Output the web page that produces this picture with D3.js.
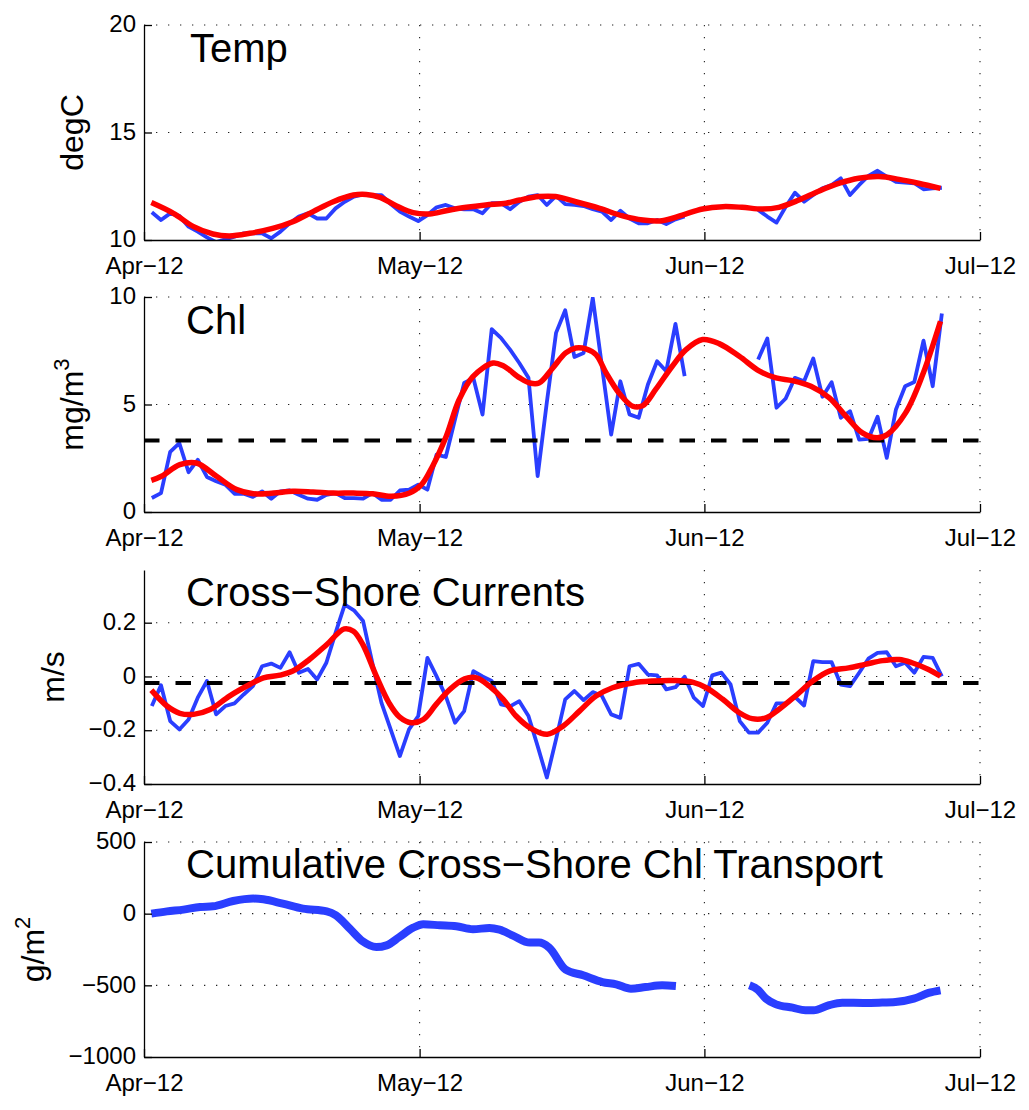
<!DOCTYPE html>
<html><head><meta charset="utf-8">
<script src="https://cdn.jsdelivr.net/npm/d3@7"></script>
<style>
body{margin:0;background:#fff}
svg{display:block}
text{font-family:"Liberation Sans",Arial,Helvetica,sans-serif;fill:#000}
</style>
</head><body>
<svg id="c" width="1029" height="1110"></svg>
<script>
// ---------- time axis ----------
const startDate = new Date(2012, 3, 1);
const endDate = new Date(2012, 6, 1);
const monthTicks = [new Date(2012,3,1), new Date(2012,4,1), new Date(2012,5,1), new Date(2012,6,1)];
const monthTickLabels = ["Apr\u221212", "May\u221212", "Jun\u221212", "Jul\u221212"];
const firstSampleDay = 0.85;   // daily samples, days after Apr 1
const nSamples = 87;

// ---------- daily observations (null = missing) ----------
const temp = [11.29,10.93,11.24,11.12,10.62,10.39,10.12,9.9,10.03,10.15,
  10.31,10.31,10.31,10.08,10.39,10.78,11.09,11.24,11.0,11.0,
  11.47,11.78,12.02,12.12,12.09,12.09,11.67,11.32,11.09,10.88,
  11.16,11.52,11.63,11.47,11.43,11.43,11.24,11.71,11.71,11.43,
  11.78,12.02,12.09,11.63,12.05,11.67,11.63,11.58,11.43,11.32,
  10.93,11.36,11.0,10.78,10.78,10.93,10.74,10.96,11.1,
  null,null,null,null,null,null,null,
  11.4,11.09,10.81,11.55,12.2,11.78,12.09,12.4,12.56,12.87,
  12.09,12.56,12.98,13.22,12.95,12.71,12.67,12.64,12.36,12.4,12.43];

const chl = [0.65,0.88,2.8,3.2,1.85,2.43,1.63,1.43,1.27,0.85,
  0.85,0.7,0.96,0.62,0.96,1.0,0.8,0.62,0.57,0.8,
  0.88,0.65,0.65,0.62,0.88,0.57,0.57,1.0,1.04,1.27,
  1.04,2.67,2.56,4.3,6.0,6.23,4.53,8.5,8.1,7.55,
  6.93,6.24,1.67,5.1,8.33,9.38,7.21,7.4,9.95,6.78,
  3.6,6.08,4.54,4.38,5.93,7.01,6.55,8.75,6.32,
  null,null,null,null,null,null,null,
  7.09,8.07,4.85,5.28,6.24,6.08,7.14,5.36,6.04,4.38,
  4.69,3.37,3.4,4.43,2.52,4.77,5.85,6.05,7.97,5.85,9.23];

const currents = [-0.11,-0.033,-0.166,-0.197,-0.16,-0.079,-0.017,-0.141,-0.11,-0.1,
  -0.067,-0.036,0.038,0.048,0.032,0.09,0.014,0.028,-0.011,0.051,
  0.162,0.267,0.246,0.206,0.051,-0.098,-0.197,-0.296,-0.197,-0.147,
  0.069,0.0,-0.073,-0.172,-0.129,0.02,0.0,-0.017,-0.104,-0.111,
  -0.092,-0.147,-0.259,-0.376,-0.234,-0.085,-0.054,-0.088,-0.058,-0.073,
  -0.141,-0.154,0.038,0.047,0.007,0.004,-0.048,-0.04,-0.001,-0.079,
  -0.11,0.004,0.014,-0.03,-0.166,-0.209,-0.209,-0.172,-0.1,-0.1,
  -0.076,-0.108,0.057,0.053,0.053,-0.03,-0.036,0.014,0.066,0.088,
  0.09,0.038,0.051,0.014,0.073,0.069,0.0];

// ---------- smoothed (low-pass) curves: day after Apr 1, value ----------
const tempSmoothDay = [0.8,3.2,5.4,7.5,9.3,11.5,14,16.2,18.4,20.6,22.8,24.2,25.7,27.5,29.3,31.1,32.9,35.1,37.2,39.4,40.9,43,44.8,47,49.6,52.1,54.3,56.4,58.6,60.8,63,65.1,67.3,69.1,71.3,73.5,75.7,77.8,80,82.2,84.3,86.7];
const tempSmooth = [11.74,11.24,10.62,10.28,10.19,10.31,10.54,10.85,11.32,11.78,12.09,12.12,11.98,11.58,11.27,11.21,11.36,11.52,11.63,11.71,11.86,12.02,12.02,11.78,11.47,11.12,10.93,10.9,11.16,11.44,11.55,11.52,11.44,11.52,11.86,12.28,12.64,12.87,12.95,12.82,12.64,12.4];

const chlSmoothDay = [0.8,1.9,3.9,5.7,7.9,10.1,11.9,14.1,16.2,18.4,20.6,22.8,24.9,26.9,28.9,30.2,31.4,32.9,34.3,35.8,38,39.1,40.9,42,43,44.5,45.9,47,48.1,49.2,50.3,51.7,53.2,54.3,55.7,57.5,59,60.8,62.6,64.8,67,68.8,70.6,72.6,74.6,76.4,78.2,79.8,80.9,82.9,84.7,86.7];
const chlSmooth = [1.47,1.66,2.2,2.28,1.66,1.04,0.85,0.88,0.96,0.93,0.88,0.88,0.85,0.73,0.88,1.27,2.12,3.52,5.22,6.3,6.93,6.8,6.24,6.0,6.0,6.7,7.4,7.63,7.59,7.32,6.47,5.54,4.92,4.95,5.7,6.78,7.55,8.02,7.83,7.24,6.55,6.24,6.11,5.85,5.31,4.46,3.68,3.45,3.6,4.61,6.32,8.87];

const curSmoothDay = [0.8,2.5,3.9,5.4,7.2,9.3,11.5,13,14.8,16.2,18,19.9,21.8,22.8,23.8,25.3,26.7,27.8,29.1,30.4,31.8,33.3,34.9,36.2,37.6,39.1,40.5,42.3,43.9,45.6,47.4,49.2,51,53.2,55.4,57.5,59.7,61.2,63,64.8,66.2,67.7,69.1,70.9,72.8,74.6,76.7,78.5,80.4,82.2,83.6,85.4,86.7];
const curSmooth = [-0.051,-0.11,-0.137,-0.141,-0.123,-0.073,-0.03,-0.005,0.005,0.02,0.063,0.119,0.177,0.168,0.12,0.0,-0.1,-0.15,-0.172,-0.16,-0.104,-0.048,-0.009,-0.005,-0.036,-0.085,-0.147,-0.197,-0.215,-0.185,-0.129,-0.073,-0.042,-0.024,-0.017,-0.015,-0.021,-0.042,-0.085,-0.135,-0.157,-0.154,-0.123,-0.073,-0.017,0.02,0.032,0.045,0.059,0.063,0.051,0.026,0.001];

// ---------- cumulative transport ----------
const transDay = [0.8,2.5,4.3,6.1,7.5,9.7,11.9,13,15.1,17.3,19.9,20.9,22.4,23.8,25.3,26.4,27.8,29.3,30.4,32.2,34,35.8,37.6,38.7,40.1,42,43,44.1,45.9,47.8,49.9,51.4,53,54.6,56.4,57.9,
  null,
  65.9,66.8,67.7,68.8,70.6,72,72.9,74.5,76,78.5,80,81.8,83.8,85.4,86.7];
const transport = [0,16,28,47,51,88,105,100,70,35,16,-12,-105,-193,-233,-221,-163,-98,-74,-81,-88,-109,-100,-112,-151,-202,-202,-237,-391,-430,-477,-493,-523,-512,-500,-505,
  null,
  -500,-530,-593,-633,-656,-674,-674,-640,-621,-623,-621,-616,-593,-553,-535];

// ---------- reference levels ----------
const chlThreshold = 3.33;
const currentMean = -0.024;

// ---------- axes definitions ----------
const tempTicks = [10,15,20],        tempTickLabels = ["10","15","20"];
const chlTicks = [0,5,10],           chlTickLabels = ["0","5","10"];
const curTicks = [-0.4,-0.2,0,0.2],  curTickLabels = ["\u22120.4","\u22120.2","0","0.2"];
const trTicks = [-1000,-500,0,500],  trTickLabels = ["\u22121000","\u2212500","0","500"];

// ================= drawing =================
const svg = d3.select("#c");
const X0 = 144, X1 = 980;
const x = d3.scaleTime().domain([startDate, endDate]).range([X0, X1]);
const toDate = d => new Date(+startDate + d * 864e5);
const sampleDates = d3.range(nSamples).map(k => toDate(firstSampleDay + k));

const BLUE = "#2a3eff", RED = "#ff0000";

const panels = [
  {id:"p1", top:25, bottom:240, domain:[10,20], ticks:tempTicks, labels:tempTickLabels, grid:[15,20],
   title:"Temp", titleX:190, titleY:62, ylab:["degC"], ylabX:83},
  {id:"p2", top:297, bottom:512, domain:[0,10], ticks:chlTicks, labels:chlTickLabels, grid:[5,10],
   title:"Chl", titleX:186, titleY:334, ylab:["mg/m","3"], ylabX:83},
  {id:"p3", top:570, bottom:784, domain:[-0.4,0.396], ticks:curTicks, labels:curTickLabels, grid:[-0.2,0,0.2],
   title:"Cross\u2212Shore Currents", titleX:186, titleY:606, ylab:["m/s"], ylabX:64},
  {id:"p4", top:842, bottom:1057, domain:[-1000,500], ticks:trTicks, labels:trTickLabels, grid:[-500,0,500],
   title:"Cumulative Cross\u2212Shore Chl Transport", titleX:186, titleY:878, ylab:["g/m","2"], ylabX:44}
];

const defs = svg.append("defs");

panels.forEach(p => {
  p.y = d3.scaleLinear().domain(p.domain).range([p.bottom, p.top]);
  defs.append("clipPath").attr("id", "clip-" + p.id)
    .append("rect").attr("x", X0).attr("y", p.top).attr("width", X1 - X0).attr("height", p.bottom - p.top);
  const g = svg.append("g");
  p.g = g;
  g.selectAll(".hg").data(p.grid).join("line")
    .attr("x1", X0).attr("x2", X1).attr("y1", d => p.y(d)).attr("y2", d => p.y(d))
    .attr("stroke", "#222").attr("stroke-width", 1.1).attr("stroke-dasharray", "1.3,10.7");
  g.selectAll(".vg").data(monthTicks.slice(1)).join("line")
    .attr("x1", d => x(d)).attr("x2", d => x(d)).attr("y1", p.top).attr("y2", p.bottom)
    .attr("stroke", "#222").attr("stroke-width", 1.1).attr("stroke-dasharray", "1.3,10.7");
  p.plot = g.append("g").attr("clip-path", "url(#clip-" + p.id + ")");
});

function dailyLine(p, values, color, width) {
  const line = d3.line()
    .defined((d, i) => values[i] !== null)
    .x((d, i) => x(sampleDates[i]))
    .y((d, i) => p.y(values[i]));
  p.plot.append("path").attr("d", line(values))
    .attr("fill", "none").attr("stroke", color).attr("stroke-width", width)
    .attr("stroke-linejoin", "round");
}
function smoothLine(p, days, values, color, width, curve) {
  const line = d3.line()
    .defined((d, i) => values[i] !== null && days[i] !== null)
    .x((d, i) => x(toDate(days[i])))
    .y((d, i) => p.y(values[i]))
    .curve(curve);
  p.plot.append("path").attr("d", line(values))
    .attr("fill", "none").attr("stroke", color).attr("stroke-width", width)
    .attr("stroke-linejoin", "round");
}
function hLine(p, v) {
  p.plot.append("line").attr("x1", X0).attr("x2", X1)
    .attr("y1", p.y(v)).attr("y2", p.y(v))
    .attr("stroke", "#000").attr("stroke-width", 4).attr("stroke-dasharray", "15.5,16");
}

dailyLine(panels[0], temp, BLUE, 3.8);
smoothLine(panels[0], tempSmoothDay, tempSmooth, RED, 5.5, d3.curveCatmullRom.alpha(0.5));
dailyLine(panels[1], chl, BLUE, 3.8);
hLine(panels[1], chlThreshold);
smoothLine(panels[1], chlSmoothDay, chlSmooth, RED, 5.5, d3.curveCatmullRom.alpha(0.5));
dailyLine(panels[2], currents, BLUE, 3.8);
hLine(panels[2], currentMean);
smoothLine(panels[2], curSmoothDay, curSmooth, RED, 5.5, d3.curveCatmullRom.alpha(0.5));
smoothLine(panels[3], transDay, transport, BLUE, 8, d3.curveMonotoneX);

panels.forEach(p => {
  const g = p.g;
  const ya = d3.axisLeft(p.y).tickValues(p.ticks).tickFormat((d, i) => p.labels[i])
    .tickSizeInner(-8).tickSizeOuter(0).tickPadding(8);
  const yg = g.append("g").attr("transform", `translate(${X0},0)`).call(ya);
  const xa = d3.axisBottom(x).tickValues(monthTicks).tickFormat((d, i) => monthTickLabels[i])
    .tickSizeInner(-8).tickSizeOuter(0).tickPadding(17);
  const xg = g.append("g").attr("transform", `translate(0,${p.bottom})`).call(xa);
  [yg, xg].forEach(a => {
    a.selectAll("path.domain").attr("stroke", "#000").attr("stroke-width", 1.3);
    a.selectAll(".tick line").attr("stroke", "#000").attr("stroke-width", 1.3);
    a.selectAll(".tick text").attr("font-size", 24).attr("fill", "#000")
      .attr("font-family", '"Liberation Sans", Arial, sans-serif');
  });
  yg.selectAll(".tick text").attr("dy", "0.28em");
  const cy = (p.top + p.bottom) / 2;
  const t = g.append("text").attr("transform", `translate(${p.ylabX},${cy}) rotate(-90)`)
    .attr("text-anchor", "middle").attr("font-size", 32);
  t.append("tspan").text(p.ylab[0]);
  if (p.ylab[1]) t.append("tspan").attr("font-size", 22).attr("dy", -14).text(p.ylab[1]);
  g.append("text").attr("x", p.titleX).attr("y", p.titleY).attr("font-size", 40).text(p.title);
});
</script>
</body></html>
